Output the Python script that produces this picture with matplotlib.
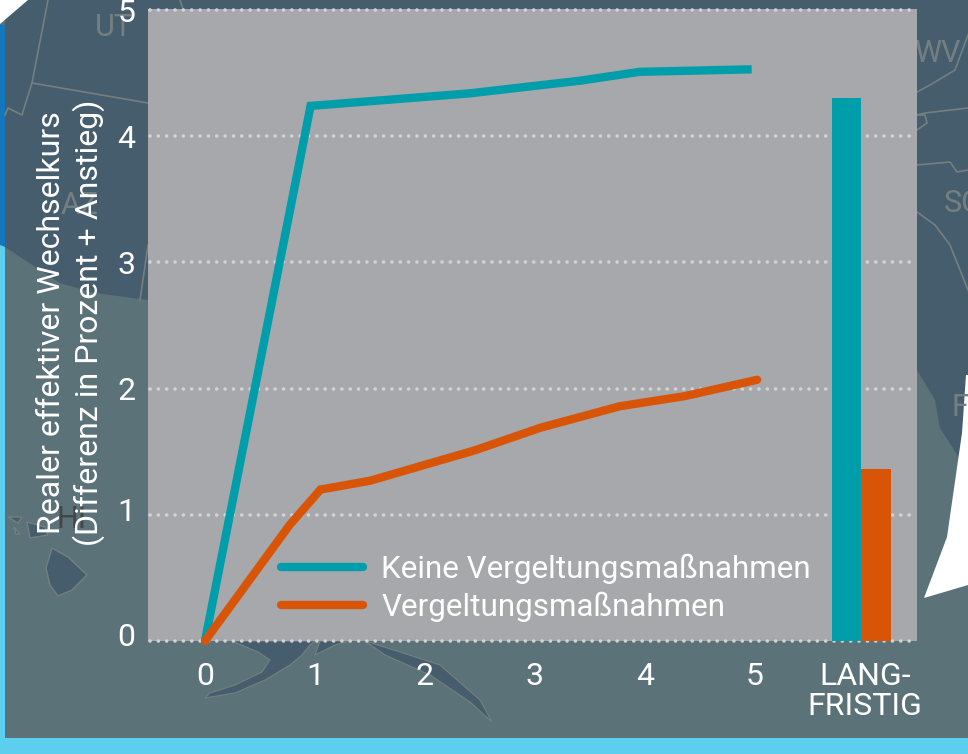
import matplotlib
matplotlib.use("Agg")
import matplotlib.pyplot as plt
from matplotlib.patches import Polygon, Rectangle
from matplotlib.transforms import ScaledTranslation

plt.rcParams["font.family"] = ["Roboto", "DejaVu Sans"]

# Line series
years_keine = [0, 0.96, 2.41, 3.41, 3.95, 4.97]
keine = [0, 4.24, 4.34, 4.44, 4.51, 4.53]
years_verg = [0, 0.77, 1.05, 1.5, 2.45, 3.05, 3.77, 4.36, 5.02]
verg = [0, 0.92, 1.2, 1.27, 1.51, 1.69, 1.86, 1.94, 2.07]

# Long-term bars
bar_x = [5.83, 6.1]
bar_vals = [4.3, 1.36]

x_ticks = [0, 1, 2, 3, 4, 5, 6]
x_labels = ["0", "1", "2", "3", "4", "5", "LANG-\nFRISTIG"]
y_ticks = [0, 1, 2, 3, 4, 5]

TEAL = "#009dab"
ORANGE = "#d85508"
SEA = "#5b7278"
LAND = "#465d6e"
BORDER = "#74807f"
CYAN = "#5ccfee"
BLUE = "#1277bd"
PANEL = "#a7a8ac"

W, H = 968, 754
fig = plt.figure(figsize=(W / 100, H / 100), dpi=100, facecolor=SEA)

# Background: map decoration in pixel coordinates
bg = fig.add_axes([0, 0, 1, 1])
bg.set_xlim(0, W)
bg.set_ylim(H, 0)
bg.axis("off")

land = [(0, 0), (968, 0), (968, 480), (958, 456), (940, 428), (935, 400), (917, 370),
        (917, 300), (148, 300), (95, 293), (60, 283), (5, 247), (5, 0)]
bg.add_patch(Polygon(land, color=LAND, lw=0))
hawaii = [(52, 548), (68, 557), (87, 575), (72, 590), (58, 596), (50, 585), (46, 568)]
bg.add_patch(Polygon(hawaii, fc=LAND, ec=BORDER, lw=1))
for isl in ([(27, 522), (45, 527), (48, 535), (30, 538)],
            [(8, 517), (22, 517), (18, 523)],
            [(14, 527), (20, 534), (16, 534)]):
    bg.add_patch(Polygon(isl, fc=LAND, ec=BORDER, lw=1))
alaska = [(205, 698), (235, 693), (265, 680), (290, 665), (302, 655), (310, 645), (315, 641),
          (232, 641), (258, 652), (270, 660), (262, 672), (235, 685), (210, 693)]
bg.add_patch(Polygon(alaska, fc=LAND, ec=BORDER, lw=0.8))
alaska2 = [(315, 655), (335, 645), (350, 641), (320, 641)]
bg.add_patch(Polygon(alaska2, fc=LAND, ec=BORDER, lw=0.8))
alaska3 = [(365, 641), (400, 652), (440, 665), (480, 700), (492, 722), (470, 702),
           (430, 675), (385, 655)]
bg.add_patch(Polygon(alaska3, fc=LAND, ec=BORDER, lw=0.8))

# State borders
for xs, ys in (([48, 32, 25, 22, 8, 5], [0, 83, 105, 115, 108, 115]),
               ([32, 148], [83, 103]),
               ([148, 140], [245, 300]),
               ([917, 925, 968], [115, 113, 108]),
               ([917, 950, 957, 968], [165, 162, 172, 170]),
               ([917, 930, 955, 968], [92, 85, 70, 35]),
               ([917, 935, 950, 968], [212, 225, 245, 290]),
               ([917, 925, 927, 917], [115, 115, 123, 130]),
               ([180, 183], [0, 9])):
    bg.plot(xs, ys, color=BORDER, lw=1.2)
for tx, ty, s, fs in ((114, 27, "UT", 22), (80, 206, "AZ", 22), (937, 53, "WV", 22),
                      (963, 203, "SC", 22), (968, 408, "FL", 22)):
    bg.text(tx, ty, s, color=BORDER, fontsize=fs, ha="center", va="center", clip_on=True)
bg.text(72, 520, "HI", color="#44474a", fontsize=22, ha="center", va="center")

# Frame: blue and cyan strips, white corners
bg.add_patch(Rectangle((0, 25), 5, 225, color=BLUE, lw=0))
bg.add_patch(Polygon([(0, 245), (5, 247), (5, 738), (968, 738), (968, 754), (0, 754)],
                     color=CYAN, lw=0))
bg.add_patch(Polygon([(0, 0), (28, 0), (0, 24)], color="white", lw=0))
white = [(924, 598), (947, 537), (962, 433), (966, 375), (968, 375), (968, 585)]
bg.add_patch(Polygon(white, color="white", lw=0))

# Chart
ax = fig.add_axes([148 / W, 1 - 641 / H, (917 - 148) / W, (641 - 9) / H])
ax.set_facecolor(PANEL)
ax.set_xlim(-0.518, 6.473)
ax.set_ylim(0, 5.008)
for side in ax.spines.values():
    side.set_visible(False)

ax.set_yticks(y_ticks)
ax.set_xticks(x_ticks)
ax.set_xticklabels(x_labels, linespacing=1.05)
ax.tick_params(length=0, labelsize=23, labelcolor="white")
ax.tick_params(axis="x", pad=15)
ax.tick_params(axis="y", pad=9)
for lab, shift in zip(ax.get_yticklabels()[:2], [5, 4]):
    lab.set_transform(lab.get_transform() + ScaledTranslation(0, shift / 72, fig.dpi_scale_trans))

for y in y_ticks:
    ax.plot([-0.5, 6.45], [y, y], color="#d3d3d6", lw=2.6, ls=(0, (0.01, 2.3)),
            dash_capstyle="round", clip_on=False, zorder=1)

ax.bar(bar_x, bar_vals, width=0.265, color=[TEAL, ORANGE], zorder=2)
ax.plot(years_keine, keine, color=TEAL, lw=6, solid_capstyle="butt",
        solid_joinstyle="miter", label="Keine Vergeltungsmaßnahmen", zorder=3, clip_on=False)
ax.plot(years_verg, verg, color=ORANGE, lw=6, solid_capstyle="round",
        solid_joinstyle="miter", label="Vergeltungsmaßnahmen", zorder=3, clip_on=False)

leg = ax.legend(loc="lower left", bbox_to_anchor=(0.173, 0.03), frameon=False,
                fontsize=22.6, labelcolor="white", handlelength=2.6,
                handletextpad=0.6, labelspacing=0.24, borderpad=0, borderaxespad=0)
for h in leg.get_lines():
    h.set_solid_capstyle("round")

fig.text(52 / W, 1 - 323 / H, "Realer effektiver Wechselkurs", color="white", fontsize=23,
         rotation=90, ha="center", va="center")
fig.text(89 / W, 1 - 323 / H, "(Differenz in Prozent + Anstieg)", color="white", fontsize=23,
         rotation=90, ha="center", va="center")

fig.savefig("out.png", dpi=100, facecolor=fig.get_facecolor())
